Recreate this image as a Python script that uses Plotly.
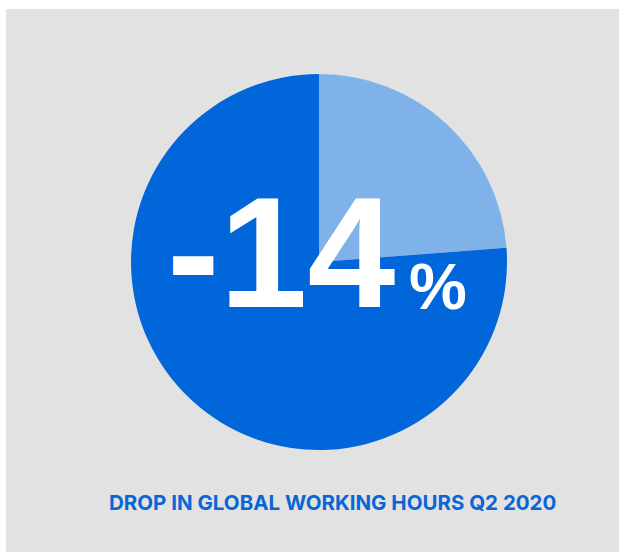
import plotly.graph_objects as go

W, H = 619, 552

# data
labels = ["Lost hours", "Remaining hours"]
values = [23.8, 76.2]
colors = ["#80B2EA", "#0066DA"]
big_label = "-14"
pct_label = "%"
caption = "DROP IN GLOBAL WORKING HOURS Q2 2020"

cx, cy, r = 319, 262, 188
SANS = "Liberation Sans"

fig = go.Figure()
fig.add_trace(go.Pie(
    labels=labels, values=values, sort=False, direction="clockwise", rotation=0,
    marker=dict(colors=colors, line=dict(width=0)),
    textinfo="none", hoverinfo="skip", showlegend=False,
    domain=dict(x=[(cx - r) / W, (cx + r) / W], y=[(H - cy - r) / H, (H - cy + r) / H]),
))

fig.add_shape(type="rect", xref="paper", yref="paper", x0=6 / W, x1=1.0, y0=0.0, y1=1 - 9 / H,
              fillcolor="#E2E2E2", line=dict(width=0), layer="below")

fig.add_annotation(text=big_label, xref="paper", yref="paper", x=281 / W, y=1 - 252 / H,
                   xanchor="center", yanchor="middle", showarrow=False,
                   font=dict(family=SANS, size=158, color="white", weight="bold"))
fig.add_annotation(text=pct_label, xref="paper", yref="paper", x=437.5 / W, y=1 - 286 / H,
                   xanchor="center", yanchor="middle", showarrow=False,
                   font=dict(family=SANS, size=65, color="white", weight="bold"))
fig.add_annotation(text=caption, xref="paper", yref="paper", x=333 / W, y=1 - 502 / H,
                   xanchor="center", yanchor="middle", showarrow=False,
                   font=dict(family="Inter", size=20.5, color="#0A66D6", weight="bold"))

fig.update_layout(width=W, height=H, margin=dict(l=0, r=0, t=0, b=0),
                  paper_bgcolor="white", plot_bgcolor="white")
fig.write_html("out.html")
